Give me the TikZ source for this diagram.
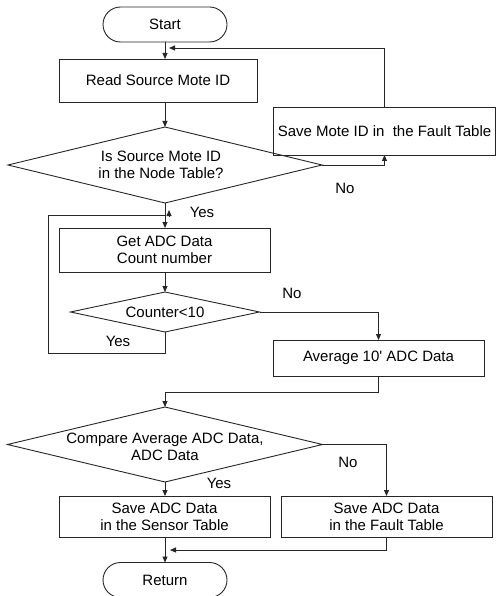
\documentclass[tikz,border=0pt]{standalone}
\usepackage{fontspec}
\setmainfont[Ligatures=TeXOff]{Liberation Sans}
\usetikzlibrary{arrows.meta,shapes.geometric,shapes.misc}
\begin{document}
\begin{tikzpicture}[x=1pt,y=-1pt,
  font=\fontsize{15}{17}\selectfont,
  every node/.style={inner sep=0pt, outer sep=0pt},
  line/.style={draw=black!85, line width=0.9pt},
  arr/.style={line, -{Triangle[length=6pt,width=5pt]}},
  procbox/.style={line, rectangle, align=center},
  termbox/.style={line, rounded rectangle, minimum width=124pt, minimum height=35pt},
  decbox/.style={line, diamond},
  lbl/.style={align=center}
]
\useasboundingbox (0,0) rectangle (496,596);

% nodes
\node[termbox] (start) at (165,24.5) {Start};
\node[procbox, minimum width=198pt, minimum height=43pt] (read) at (158,80.5) {Read Source Mote ID};
\node[decbox, minimum width=314pt, minimum height=76pt] (d1) at (165,165) {};
\node[lbl] (d1t) at (161,165) {Is Source Mote ID\\in the Node Table?};
\node[procbox, minimum width=222pt, minimum height=48pt] (fault1) at (384.5,131) {Save Mote ID in \ the Fault Table};
\node[procbox, minimum width=211pt, minimum height=44pt] (get) at (164.5,250) {Get ADC Data\\Count number};
\node[decbox, minimum width=189pt, minimum height=40pt] (d2) at (165,312) {};
\node[lbl] (d2t) at (165,312) {Counter<10};
\node[procbox, minimum width=211pt, minimum height=36pt] (avg) at (378.5,358) {Average 10' ADC Data};
\node[decbox, minimum width=315pt, minimum height=75pt] (d3) at (165,444.5) {};
\node[lbl] (d3t) at (165,447) {Compare Average ADC Data,\\ADC Data};
\node[procbox, minimum width=211pt, minimum height=41pt] (sensor) at (164.5,516.5) {Save ADC Data\\in the Sensor Table};
\node[procbox, minimum width=211pt, minimum height=41pt] (fault2) at (386.5,516.5) {Save ADC Data\\in the Fault Table};
\node[termbox] (ret) at (165,580) {Return};

% labels
\node (no1) at (345,188) {No};
\node (yes1) at (202,212) {Yes};
\node (no2) at (292,293) {No};
\node (yes2) at (118,341) {Yes};
\node (no3) at (348,462) {No};
\node (yes3) at (219,483) {Yes};

% helper coordinates
\coordinate (fb) at (169,48);
\coordinate (lp1) at (48,353);
\coordinate (lp2) at (165,215);
\coordinate (lpa) at (169,216);
\coordinate (lpb) at (169,210);
\coordinate (rj) at (170,550);

% connectors
\draw[arr] (start.south) -- (start.south |- read.north);
\draw[arr] (start.south |- read.south) -- (d1.north);
\draw[arr] (d1.east) -| (fault1.south);
\draw[arr] (fault1.north) |- (fb);
\draw[arr] (d1.south) -- (d1.south |- get.north);
\draw[arr] (d1.south |- get.south) -- (d2.north);
\draw[arr] (d2.east) -| (avg.north);
\draw[line] (d2.south) |- (lp1) |- (lp2);
\draw[arr] (lpa) -- (lpb);
\draw[arr] (avg.south) -- ++(0,16) -| (d3.north);
\draw[arr] (d3.east) -| (fault2.north);
\draw[arr] (d3.south) -- (d3.south |- sensor.north);
\draw[arr] (d3.south |- sensor.south) -- (ret.north);
\draw[arr] (fault2.south) |- (rj);
\end{tikzpicture}
\end{document}
